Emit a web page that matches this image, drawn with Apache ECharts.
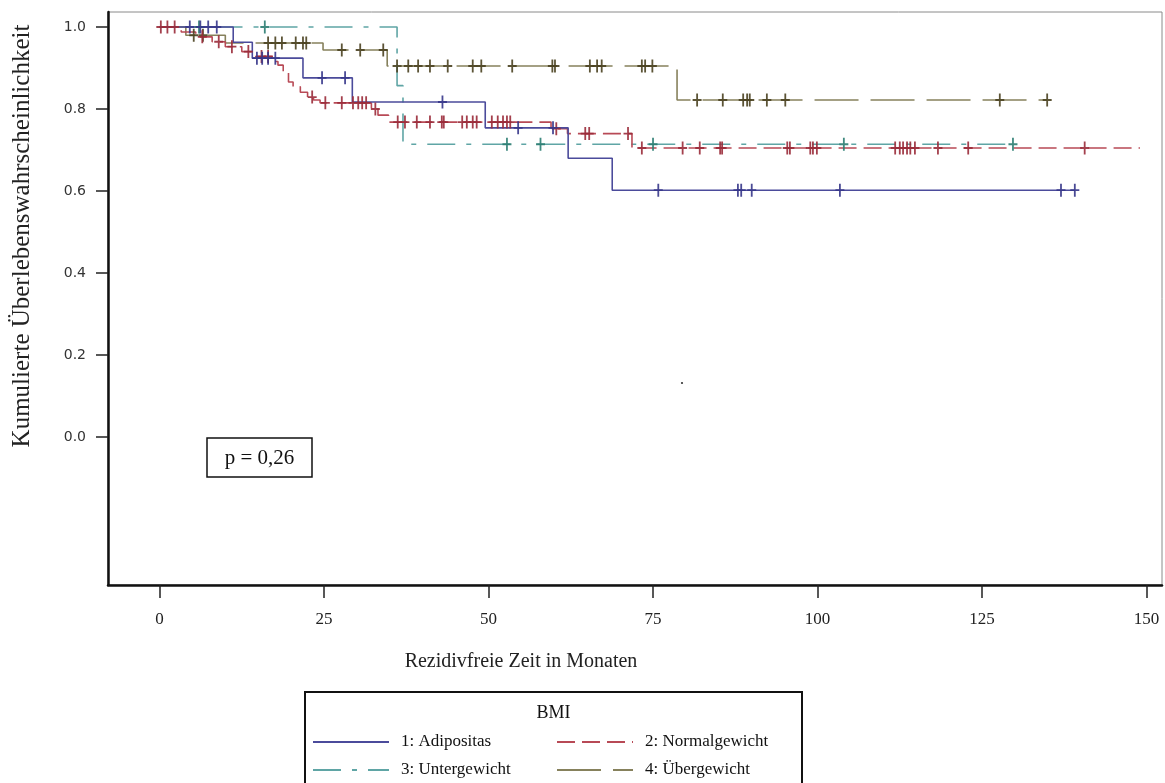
<!DOCTYPE html>
<html>
<head>
<meta charset="utf-8">
<script src="https://cdn.jsdelivr.net/npm/echarts@6/dist/echarts.min.js"></script>
<style>
  html, body { margin: 0; padding: 0; background: #ffffff; }
  #chart { width: 1165px; height: 783px; }
</style>
</head>
<body>
<div id="chart"></div>
<script>
// Kaplan-Meier curves of recurrence-free time by BMI group.
// For each group: step times (months), survival after each step, censoring times.
const groupNames = ['1: Adipositas', '2: Normalgewicht', '3: Untergewicht', '4: Übergewicht'];

const adipTime = [0, 11.2, 14.1, 21.8, 29.3, 49.5, 62.1, 68.8, 139.1];
const adipSurv = [1.0, 0.963, 0.924, 0.876, 0.817, 0.754, 0.680, 0.602, 0.602];
const adipCens = [4.6, 6.2, 7.4, 8.7, 14.8, 15.6, 16.5, 17.6, 24.7, 28.2, 43.0, 54.5, 59.8,
                  75.8, 87.9, 88.4, 90.0, 103.4, 137.0, 139.1];

const normTime = [0, 3.3, 5.5, 8.0, 10.0, 12.5, 14.5, 17.5, 18.0, 18.8, 19.6, 20.3, 21.4, 22.5,
                  23.4, 24.4, 32.2, 33.2, 34.8, 59.5, 62.0, 71.8, 149.0];
const normSurv = [1.0, 0.988, 0.976, 0.964, 0.952, 0.940, 0.928, 0.916, 0.907, 0.888, 0.866, 0.854,
                  0.841, 0.829, 0.822, 0.815, 0.800, 0.785, 0.768, 0.752, 0.740, 0.705, 0.705];
const normCens = [0.2, 1.2, 2.3, 6.5, 9.0, 11.0, 13.5, 15.5, 16.5, 23.2, 25.2, 27.7, 29.4, 30.2,
                  30.8, 31.4, 32.8, 36.2, 37.3, 39.1, 41.1, 42.9, 43.2, 46.0, 46.7, 47.6, 48.2,
                  50.5, 51.4, 52.2, 52.8, 53.3, 60.3, 64.7, 65.3, 71.2, 73.3, 79.5, 82.1, 85.2,
                  85.5, 95.4, 95.8, 98.9, 99.3, 99.9, 111.8, 112.5, 113.0, 113.6, 114.1, 114.8,
                  118.3, 122.9, 140.6];

const unterTime = [0, 36.1, 37.0, 130.0];
const unterSurv = [1.0, 0.857, 0.714, 0.714];
const unterCens = [6.0, 16.0, 52.8, 57.9, 75.0, 104.0, 129.7];

const ueberTime = [0, 4.0, 10.0, 24.85, 34.6, 78.65, 134.9];
const ueberSurv = [1.0, 0.980, 0.961, 0.944, 0.905, 0.822, 0.822];
const ueberCens = [5.2, 6.6, 16.5, 17.6, 18.6, 20.7, 21.8, 22.3, 27.7, 30.5, 34.0, 36.1, 37.8,
                   39.3, 41.1, 43.8, 47.6, 48.9, 53.6, 59.7, 60.1, 65.4, 66.5, 67.2, 73.3, 73.8,
                   74.9, 81.7, 85.6, 88.7, 89.3, 89.7, 92.3, 95.1, 127.7, 134.9];

const xTicks = [0, 25, 50, 75, 100, 125, 150];
const yTicks = [0.0, 0.2, 0.4, 0.6, 0.8, 1.0];

const xTitle = 'Rezidivfreie Zeit in Monaten';
const yTitle = 'Kumulierte Überlebenswahrscheinlichkeit';
const legendTitle = 'BMI';
const pText = 'p = 0,26';

// Styling per group
const lineColors = ['#4b4b9b', '#b84a56', '#5fa5a5', '#86815c'];
const markColors = ['#36368a', '#9a2b3a', '#2b7d72', '#4a4120'];
const dashes = ['solid', [18, 7], [28, 11, 5, 11], [44, 12]];

const groups = [
  [adipTime, adipSurv, adipCens],
  [normTime, normSurv, normCens],
  [unterTime, unterSurv, unterCens],
  [ueberTime, ueberSurv, ueberCens]
];

// value of a step curve at time t
function survAt(times, surv, t) {
  let s = surv[0];
  for (let i = 0; i < times.length; i++) {
    if (times[i] <= t) s = surv[i];
  }
  return s;
}

const plusSymbol = 'path://M4,0H6V14H4Z M0,6H10V8H0Z';
const serif = '"Liberation Serif", "Times New Roman", serif';

const series = [];
// draw order: Untergewicht, Übergewicht, Normalgewicht, Adipositas
[2, 3, 1, 0].forEach(function (g) {
  const [times, surv, cens] = groups[g];
  series.push({
    name: groupNames[g],
    type: 'line',
    step: 'end',
    showSymbol: false,
    symbol: 'none',
    silent: true,
    lineStyle: { color: lineColors[g], width: 1.6, type: dashes[g] },
    data: times.map(function (t, i) { return [t, surv[i]]; }),
    z: 2
  });
  series.push({
    name: groupNames[g] + ' zensiert',
    type: 'scatter',
    symbol: plusSymbol,
    symbolSize: [9, 13],
    silent: true,
    itemStyle: { color: markColors[g], opacity: 0.9 },
    data: cens.map(function (t) { return [t, survAt(times, surv, t)]; }),
    z: 3
  });
});

// legend drawn as graphic elements
const legendBox = { x: 305, y: 692, w: 497, h: 100 };
const legendSlots = [[313, 742], [557, 742], [313, 770], [557, 770]];
const legendEls = [
  { type: 'rect', shape: { x: legendBox.x, y: legendBox.y, width: legendBox.w, height: legendBox.h },
    style: { fill: '#ffffff', stroke: '#111111', lineWidth: 2 } },
  { type: 'text', x: legendBox.x + legendBox.w / 2, y: 713,
    style: { text: legendTitle, font: '18px ' + serif, fill: '#111', align: 'center', verticalAlign: 'middle' } }
];
groupNames.forEach(function (name, g) {
  const [lx, ly] = legendSlots[g];
  legendEls.push({
    type: 'line', shape: { x1: lx, y1: ly, x2: lx + 76, y2: ly },
    style: { stroke: lineColors[g], lineWidth: 2.2, lineDash: dashes[g] === 'solid' ? null : dashes[g] }
  });
  legendEls.push({
    type: 'text', x: lx + 88, y: ly,
    style: { text: name, font: '17px ' + serif, fill: '#111', align: 'left', verticalAlign: 'middle' }
  });
});

const chart = echarts.init(document.getElementById('chart'), null, { renderer: 'canvas' });
chart.setOption({
  animation: false,
  backgroundColor: '#ffffff',
  grid: { left: 108, right: 3, top: 12, bottom: 198, show: true, borderColor: '#8a8a8a', borderWidth: 1 },
  xAxis: {
    type: 'value', min: -7.83, max: 152.35,
    axisLine: { show: true, onZero: false, lineStyle: { color: '#111', width: 2.5 } },
    axisTick: { show: true, customValues: xTicks, length: 13, lineStyle: { color: '#222', width: 1.5 } },
    axisLabel: { customValues: xTicks, margin: 26, fontFamily: serif, fontSize: 17, color: '#222' },
    splitLine: { show: false }
  },
  yAxis: {
    type: 'value', min: -0.361, max: 1.0366,
    axisLine: { show: true, onZero: false, lineStyle: { color: '#111', width: 2.5 } },
    axisTick: { show: true, customValues: yTicks, length: 12, lineStyle: { color: '#222', width: 1.5 } },
    axisLabel: { customValues: yTicks, margin: 22, fontFamily: '"DejaVu Sans", sans-serif', fontSize: 14, color: '#333',
                 formatter: function (v) { return v.toFixed(1); } },
    splitLine: { show: false }
  },
  series: series,
  graphic: [
    { type: 'text', x: 22, y: 236, rotation: Math.PI / 2,
      style: { text: yTitle, font: '25px ' + serif, fill: '#222', align: 'center', verticalAlign: 'middle' } },
    { type: 'text', x: 521, y: 662,
      style: { text: xTitle, font: '20px ' + serif, fill: '#222', align: 'center', verticalAlign: 'middle' } },
    { type: 'rect', shape: { x: 207, y: 438, width: 105, height: 39 },
      style: { fill: '#ffffff', stroke: '#111', lineWidth: 1.5 } },
    { type: 'text', x: 259.5, y: 458,
      style: { text: pText, font: '21px ' + serif, fill: '#111', align: 'center', verticalAlign: 'middle' } },
    { type: 'circle', shape: { cx: 682, cy: 383, r: 1.1 }, style: { fill: '#333' } }
  ].concat(legendEls)
});
</script>
</body>
</html>
